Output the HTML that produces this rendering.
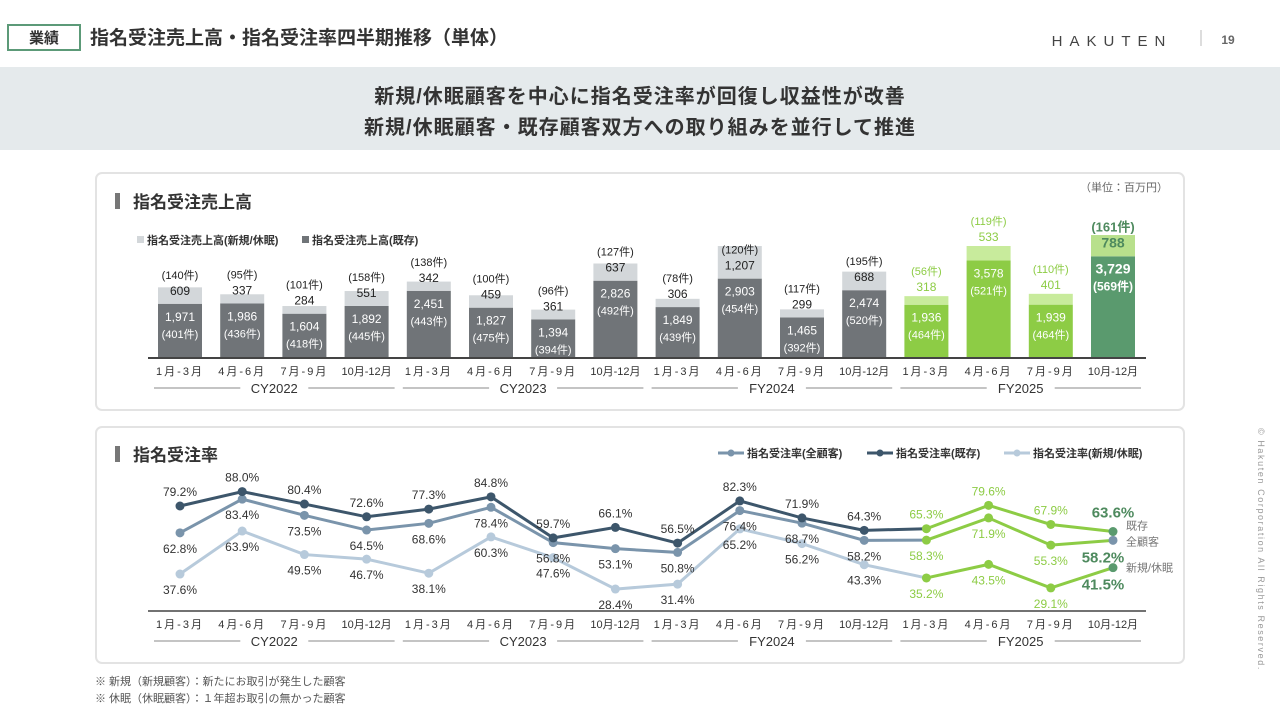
<!DOCTYPE html>
<html><head><meta charset="utf-8">
<style>
body{margin:0;width:1280px;height:720px;background:#fff;overflow:hidden;font-family:"Liberation Sans","Noto Sans CJK JP",sans-serif;}
svg text{font-family:"Liberation Sans","Noto Sans CJK JP",sans-serif;}
</style></head>
<body>
<svg id="s" width="1280" height="720" viewBox="0 0 1280 720" xmlns="http://www.w3.org/2000/svg">
<g>
<rect x="8" y="25" width="72" height="25" fill="#fff" stroke="#5c9a78" stroke-width="2"/>
<text x="44" y="43" font-size="15" font-weight="bold" text-anchor="middle" fill="#333">業績</text>
<text x="90" y="44" font-size="19" font-weight="bold" fill="#333">指名受注売上高・指名受注率四半期推移（単体）</text>
<text x="1112" y="46" font-size="15" letter-spacing="7" text-anchor="middle" fill="#444">HAKUTEN</text>
<line x1="1201" y1="30" x2="1201" y2="46" stroke="#bbb"/>
<text x="1228" y="44" font-size="12" font-weight="bold" fill="#666" text-anchor="middle">19</text>
</g>
<rect x="0" y="67" width="1280" height="83" fill="#e5eaec"/>
<text x="640" y="103" font-size="20" font-weight="bold" text-anchor="middle" fill="#333" letter-spacing="1">新規/休眠顧客を中心に指名受注率が回復し収益性が改善</text>
<text x="640" y="134" font-size="20" font-weight="bold" text-anchor="middle" fill="#333" letter-spacing="1">新規/休眠顧客・既存顧客双方への取り組みを並行して推進</text>

<rect x="96" y="173" width="1088" height="237" rx="6" fill="#fff" stroke="#e3e3e3" stroke-width="2"/>
<rect x="96" y="427" width="1088" height="236" rx="6" fill="#fff" stroke="#e3e3e3" stroke-width="2"/>
<rect x="115" y="193" width="5" height="16" fill="#777"/>
<text x="133" y="208" font-size="17" font-weight="bold" fill="#333">指名受注売上高</text>
<text x="1168" y="191" font-size="11" fill="#666" text-anchor="end">（単位：百万円）</text>
<rect x="137" y="236" width="7" height="7" fill="#d3d7da"/>
<text x="147" y="244" font-size="11" font-weight="bold" fill="#333">指名受注売上高(新規/休眠)</text>
<rect x="302" y="236" width="7" height="7" fill="#707478"/>
<text x="312" y="244" font-size="11" font-weight="bold" fill="#333">指名受注売上高(既存)</text>

<rect x="115" y="446" width="5" height="16" fill="#777"/>
<text x="133" y="461" font-size="17" font-weight="bold" fill="#333">指名受注率</text>
<g>
<line x1="718" y1="453" x2="744" y2="453" stroke="#7a94ab" stroke-width="3"/><circle cx="731" cy="453" r="3.5" fill="#7a94ab"/>
<text x="747" y="457" font-size="11" font-weight="bold" fill="#333">指名受注率(全顧客)</text>
<line x1="867" y1="453" x2="893" y2="453" stroke="#3d566b" stroke-width="3"/><circle cx="880" cy="453" r="3.5" fill="#3d566b"/>
<text x="896" y="457" font-size="11" font-weight="bold" fill="#333">指名受注率(既存)</text>
<line x1="1004" y1="453" x2="1030" y2="453" stroke="#b7cadb" stroke-width="3"/><circle cx="1017" cy="453" r="3.5" fill="#b7cadb"/>
<text x="1033" y="457" font-size="11" font-weight="bold" fill="#333">指名受注率(新規/休眠)</text>
</g>
<g id="bars"></g><g id="lines"></g>
<text x="95" y="685" font-size="11" fill="#555">※ 新規（新規顧客）：新たにお取引が発生した顧客</text>
<text x="95" y="702" font-size="11" fill="#555">※ 休眠（休眠顧客）：１年超お取引の無かった顧客</text>
<text transform="translate(1258,428) rotate(90)" font-size="9" fill="#999" letter-spacing="1.6">© Hakuten Corporation All Rights Reserved.</text>
</svg>
<script>
const quarters=["1月-3月","4月-6月","7月-9月","10月-12月","1月-3月","4月-6月","7月-9月","10月-12月","1月-3月","4月-6月","7月-9月","10月-12月","1月-3月","4月-6月","7月-9月","10月-12月"];
const groups=["CY2022","CY2023","FY2024","FY2025"];
const existingSales=[1971,1986,1604,1892,2451,1827,1394,2826,1849,2903,1465,2474,1936,3578,1939,3729];
const existingCount=[401,436,418,445,443,475,394,492,439,454,392,520,464,521,464,569];
const newSales=[609,337,284,551,342,459,361,637,306,1207,299,688,318,533,401,788];
const newCount=[140,95,101,158,138,100,96,127,78,120,117,195,56,119,110,161];
const rateAll=[62.8,83.4,73.5,64.5,68.6,78.4,56.8,53.1,50.8,76.4,68.7,58.2,58.3,71.9,55.3,58.2];
const rateExisting=[79.2,88.0,80.4,72.6,77.3,84.8,59.7,66.1,56.5,82.3,71.9,64.3,65.3,79.6,67.9,63.6];
const rateNew=[37.6,63.9,49.5,46.7,38.1,60.3,47.6,28.4,31.4,65.2,56.2,43.3,35.2,43.5,29.1,41.5];

const NS="http://www.w3.org/2000/svg";
function mk(p,tag,a,txt){const e=document.createElementNS(NS,tag);for(const k in a)e.setAttribute(k,a[k]);if(txt!==undefined)e.textContent=txt;p.appendChild(e);return e;}
const xc=i=>180+i*62.2;
const yB=v=>357-v*0.027;
const yL=v=>506-(v-79.2)*1.635;
const fmt=v=>v.toLocaleString("en-US");
const bars=document.getElementById("bars");
function axis(g,yAxis,yLab,yGrp,w){
  const ax=mk(g,"line",{x1:148,x2:1146,y1:yAxis,y2:yAxis,stroke:"#444","stroke-width":w});
  
  
  quarters.forEach((q,i)=>{const t=mk(g,"text",{x:xc(i),y:yLab,"font-size":11,"text-anchor":"middle",fill:"#333","letter-spacing":i%4==3?0:2},q);
    
    });
  groups.forEach((gname,k)=>{const x0=xc(k*4)-26,x1=xc(k*4+3)+28,m=(x0+x1)/2;
    mk(g,"line",{x1:x0,x2:m-34,y1:yGrp-5,y2:yGrp-5,stroke:"#888","stroke-width":1});
    mk(g,"line",{x1:m+34,x2:x1,y1:yGrp-5,y2:yGrp-5,stroke:"#888","stroke-width":1});
    const t=mk(g,"text",{x:m,y:yGrp,"font-size":13,"text-anchor":"middle",fill:"#333"},gname);
    
    });
}
existingSales.forEach((v,i)=>{
  const fy=i>=12,last=i==15;
  const dk=last?"#5a9a6e":fy?"#8dcc45":"#707478";
  const lt=last?"#b8e08c":fy?"#c8eb9c":"#d3d7da";
  const x=xc(i)-22,top=yB(v),ntop=yB(v+newSales[i]);
  const r1=mk(bars,"rect",{x:x,y:top,width:44,height:357-top,fill:dk});
  
  
  const r2=mk(bars,"rect",{x:x,y:ntop,width:44,height:top-ntop,fill:lt});
  
  
  let vy=top-9,cy=top-25,vc="#222",cc="#222";
  if(fy&&!last){vy=ntop-5;cy=ntop-21;vc="#8dcc45";cc="#8dcc45";}
  if(last){vc="#4e8a5e";cc="#4e8a5e";}
  mk(bars,"text",{x:xc(i),y:vy,"font-size":last?14:12,"font-weight":last?"bold":"normal","text-anchor":"middle",fill:vc},fmt(newSales[i]));
  mk(bars,"text",{x:xc(i),y:cy,"font-size":last?13:11,"font-weight":last?"bold":"normal","text-anchor":"middle",fill:cc},"("+newCount[i]+"件)");
  mk(bars,"text",{x:xc(i),y:top+17,"font-size":last?14:12,"font-weight":last?"bold":"normal","text-anchor":"middle",fill:"#fff"},fmt(v));
  mk(bars,"text",{x:xc(i),y:top+34,"font-size":last?12:11,"font-weight":last?"bold":"normal","text-anchor":"middle",fill:"#fff"},"("+existingCount[i]+"件)");
});
axis(bars,358,375,393,2);
const lines=document.getElementById("lines");
function series(arr,color,name,above){
  const pre=arr.slice(0,13).map((v,i)=>xc(i)+","+yL(v)).join(" ");
  const post=arr.slice(12).map((v,j)=>xc(j+12)+","+yL(v)).join(" ");
  const p1=mk(lines,"polyline",{points:pre,fill:"none",stroke:color,"stroke-width":3});
  
  
  const p2=mk(lines,"polyline",{points:post,fill:"none",stroke:"#8dcc45","stroke-width":3});
  
  
  arr.forEach((v,i)=>{
    const fy=i>=12,last=i==15;
    const c=mk(lines,"circle",{cx:xc(i),cy:yL(v),r:4.5,fill:last?(name=="rate-all"?"#7a94ab":"#5a9a6e"):fy?"#8dcc45":color});
    
    
    const ly=above?yL(v)-(last?14:10):yL(v)+(last?22:20);
    mk(lines,"text",{x:xc(i)-(last&&!above?10:0),y:ly,"font-size":last?15:12,"font-weight":last?"bold":"normal","text-anchor":"middle",fill:last?"#4e8a5e":fy?"#8dcc45":"#333"},v.toFixed(1)+"%");
  });
}
series(rateNew,"#b7cadb","rate-new",false);
series(rateAll,"#7a94ab","rate-all",false);
series(rateExisting,"#3d566b","rate-existing",true);
[["既存",rateExisting,-2],["全顧客",rateAll,5],["新規/休眠",rateNew,4]].forEach(([t,a,o])=>{
  const e=mk(lines,"text",{x:xc(15)+13,y:yL(a[15])+o,"font-size":11,fill:"#777"},t);
  
  
});
axis(lines,611,628,646,1.5);
</script>
</body></html>
